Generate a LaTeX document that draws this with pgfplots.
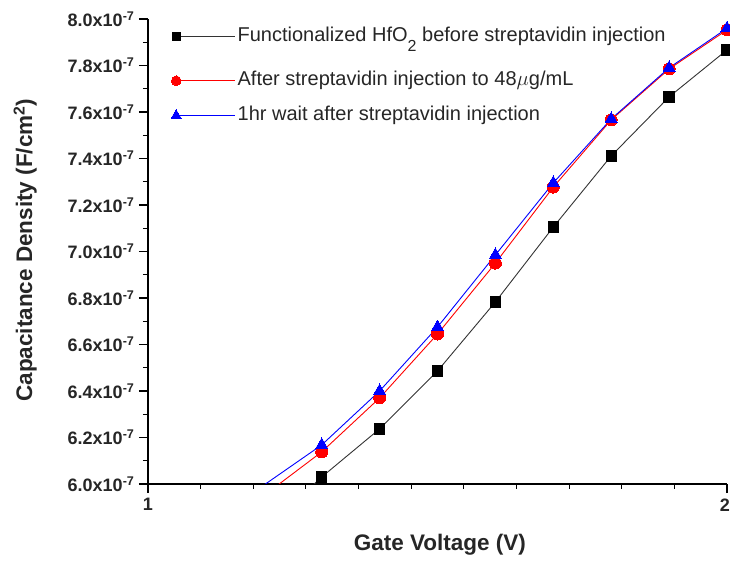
\documentclass[border=0pt]{standalone}
\usepackage{fontspec}
\setmainfont{Liberation Sans}
\usepackage{pgfplots}
\pgfplotsset{compat=1.18}
\begin{document}
\begin{tikzpicture}[x=1pt,y=1pt]
\useasboundingbox (-148,-77) rectangle (582,484);
\begin{axis}[
 at={(0,0)}, anchor=south west,
 scale only axis, width=579pt, height=465pt,
 xmin=1, xmax=2, ymin=6.0, ymax=8.0,
 axis x line*=bottom, axis y line*=left,
 axis line style={line width=1.2pt, -},
 xtick={1,2}, xticklabels={\textbf{1},\makebox[6pt][r]{\textbf{2}}},
 minor xtick={1.0909,1.1818,1.2727,1.3636,1.4545,1.5455,1.6364,1.7273,1.8182,1.9091},
 ytick={6.0,6.2,6.4,6.6,6.8,7.0,7.2,7.4,7.6,7.8,8.0},
 yticklabels={
  \textbf{6.0x10}\textsuperscript{\textbf{-7}},
  \textbf{6.2x10}\textsuperscript{\textbf{-7}},
  \textbf{6.4x10}\textsuperscript{\textbf{-7}},
  \textbf{6.6x10}\textsuperscript{\textbf{-7}},
  \textbf{6.8x10}\textsuperscript{\textbf{-7}},
  \textbf{7.0x10}\textsuperscript{\textbf{-7}},
  \textbf{7.2x10}\textsuperscript{\textbf{-7}},
  \textbf{7.4x10}\textsuperscript{\textbf{-7}},
  \textbf{7.6x10}\textsuperscript{\textbf{-7}},
  \textbf{7.8x10}\textsuperscript{\textbf{-7}},
  \textbf{8.0x10}\textsuperscript{\textbf{-7}}},
 minor ytick={6.1,6.3,6.5,6.7,6.9,7.1,7.3,7.5,7.7,7.9},
 tick align=outside,
 major tick length=9pt, minor tick length=5pt,
 tick style={line width=1.2pt, black},
 ticklabel style={font=\fontsize{18}{21}\selectfont, text=black!85},
 xticklabel style={yshift=-2pt},
 yticklabel style={xshift=-1pt},
 xlabel={\textbf{Gate Voltage (V)}},
 xlabel style={at={(axis description cs:0.504,0)}, anchor=center, yshift=-61pt, font=\fontsize{22.5}{26}\selectfont, text=black!85},
 ylabel={\textbf{Capacitance Density (F/cm\textsuperscript{2})}},
 ylabel style={at={(axis description cs:-0.212,0.503)}, anchor=center, font=\fontsize{22.5}{26}\selectfont, text=black!85},
 legend style={at={(axis description cs:0.04,1.008)}, anchor=north west, draw=none, fill=none,
   font=\fontsize{20}{23}\selectfont, row sep=11pt, inner sep=0pt, cells={anchor=west}, text=black!85,
   nodes={text height=15pt, text depth=4.5pt}},
 legend image code/.code={\draw[#1, mark indices={1}, every mark/.append style={scale=0.8}] plot coordinates {(0pt,0pt)(29.5pt,0pt)(59pt,0pt)};},
]
\addplot[black!80, line width=0.9pt, mark=square*, mark size=5.2pt, mark options={fill=black, draw=black, line width=0pt}, mark indices={1,2,3,4,5,6,7,8}]
 coordinates {(1.2,5.80)(1.3,6.03)(1.4,6.237)(1.5,6.486)(1.6,6.783)(1.7,7.105)(1.8,7.411)(1.9,7.665)(2.0,7.867)};
\addlegendentry[text height=24.5pt, text depth=14pt]{Functionalized HfO\raisebox{-10pt}{\fontsize{16}{16}\selectfont 2} before streptavidin injection}
\addplot[red, line width=0.9pt, mark=*, mark size=6pt, mark options={fill=red, draw=red, line width=0pt}, mark indices={1,2,3,4,5,6,7,8}]
 coordinates {(1.2,5.95)(1.3,6.138)(1.4,6.37)(1.5,6.645)(1.6,6.95)(1.7,7.277)(1.8,7.566)(1.9,7.785)(2.0,7.953)};
\addlegendentry{After streptavidin injection to 48$\mu$g/mL}
\addplot[blue, line width=0.9pt, mark=triangle*, mark size=7pt, mark options={fill=blue, draw=blue, line width=0pt}, mark indices={1,2,3,4,5,6,7,8}]
 coordinates {(1.2,5.995)(1.3,6.168)(1.4,6.40)(1.5,6.675)(1.6,6.985)(1.7,7.295)(1.8,7.57)(1.9,7.79)(2.0,7.96)};
\addlegendentry{1hr wait after streptavidin injection}
\end{axis}
\end{tikzpicture}
\end{document}
